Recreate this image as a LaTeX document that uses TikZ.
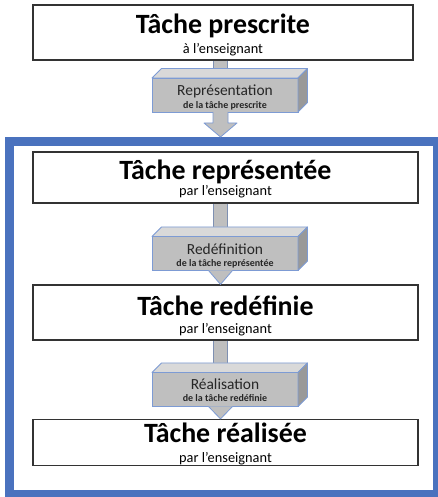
\documentclass[tikz,border=0pt]{standalone}
\usepackage{fontspec}
\setmainfont{Carlito}
\usepackage{tikz}
\usetikzlibrary{positioning}

\definecolor{framebl}{RGB}{74,114,190}
\definecolor{edgebl}{RGB}{125,155,212}
\definecolor{blockgr}{RGB}{191,191,191}
\newcommand{\tasksub}[1]{{\mdseries\fontsize{14.4}{16}\selectfont #1}}
\newcommand{\stepsub}[1]{{\bfseries\fontsize{10}{12}\selectfont #1}}

\begin{document}
\begin{tikzpicture}[x=1bp,y=1bp,
  taskbox/.style={draw=black!80,line width=1.2bp,fill=white,minimum width=385bp,
    inner sep=0pt,text depth=0pt,align=center,font=\fontsize{28}{20}\selectfont\bfseries},
  stepblock/.style={draw=edgebl,line width=0.8bp,fill=blockgr,minimum width=146bp,
    minimum height=34bp,inner sep=0pt,outer sep=0pt,text depth=0pt,align=center,
    text=black!85,font=\fontsize{15.5}{14}\selectfont},
  topface/.style={draw=edgebl,line width=0.8bp,fill=black!15,line join=round},
  sideface/.style={draw=edgebl,line width=0.8bp,fill=black!40,line join=round},
  stem/.style={draw=edgebl!60!gray,line width=0.7bp,double=blockgr,double distance=13.6bp},
  headtip/.style={draw=edgebl,line width=0.8bp,fill=blockgr,line join=round},
  frame/.style={draw=framebl,line width=9bp,minimum width=428bp,minimum height=353bp}]
\useasboundingbox[fill=white] (0,0) rectangle (438,497);
\coordinate (col) at (220.5,0);

% blue frame round the teacher's part
\node[frame] (frame) at (223.5,179) {};

% tasks
\node[taskbox,minimum width=380bp,minimum height=55bp,text height=43bp] (prescr) at (223,464.5)
  {Tâche prescrite\\[1bp]\tasksub{à l’enseignant}};
\node[taskbox,minimum height=51bp,text height=37bp] (repr) at (225.5,319.5)
  {Tâche représentée\\[-3bp]\tasksub{par l’enseignant}};
\node[taskbox,minimum height=55bp,text height=43bp] (redef) at (225.5,184.5)
  {Tâche redéfinie\\[-1bp]\tasksub{par l’enseignant}};
\node[taskbox,minimum height=46bp,text height=41bp] (real) at (225.5,54.5)
  {Tâche réalisée\\[1bp]\tasksub{par l’enseignant}};

% steps between them
\node[stepblock,text height=28bp] (blk1) at (225,402)
  {Représentation\\\stepsub{de la tâche prescrite}};
\node[stepblock,text height=27bp] (blk2) at (225,243.5)
  {Redéfinition\\[-1bp]\stepsub{de la tâche représentée}};
\node[stepblock,text height=25bp] (blk3) at (225,107.5)
  {Réalisation\\[-1bp]\stepsub{de la tâche redéfinie}};

% stems go under the blocks
\draw[stem] (prescr.south -| col) -- (blk1.north -| col);
\draw[stem] (repr.south -| col) -- (blk2.north -| col);
\draw[stem] (redef.south -| col) -- (blk3.north -| col);

% 3d faces
\foreach \b in {blk1,blk2,blk3}{
  \draw[topface] (\b.north west) -- ([shift={(9.5bp,9.5bp)}]\b.north west)
    -- ([shift={(9.5bp,9.5bp)}]\b.north east) -- (\b.north east) -- cycle;
  \draw[sideface] (\b.north east) -- ([shift={(9.5bp,9.5bp)}]\b.north east)
    -- ([shift={(9.5bp,9.5bp)}]\b.south east) -- (\b.south east) -- cycle;
}

% arrow heads
\draw[headtip] ([xshift=-7.5bp]blk1.south -| col) -- ([xshift=-7.5bp,yshift=14bp]frame.north -| col)
  -- ([xshift=-16.5bp,yshift=14bp]frame.north -| col) -- (frame.north -| col)
  -- ([xshift=16.5bp,yshift=14bp]frame.north -| col) -- ([xshift=7.5bp,yshift=14bp]frame.north -| col)
  -- ([xshift=7.5bp]blk1.south -| col);
\draw[headtip] ([xshift=-12bp]blk2.south -| col) -- (redef.north -| col) -- ([xshift=12bp]blk2.south -| col);
\draw[headtip] ([xshift=-12bp]blk3.south -| col) -- (real.north -| col) -- ([xshift=12bp]blk3.south -| col);
\end{tikzpicture}
\end{document}
